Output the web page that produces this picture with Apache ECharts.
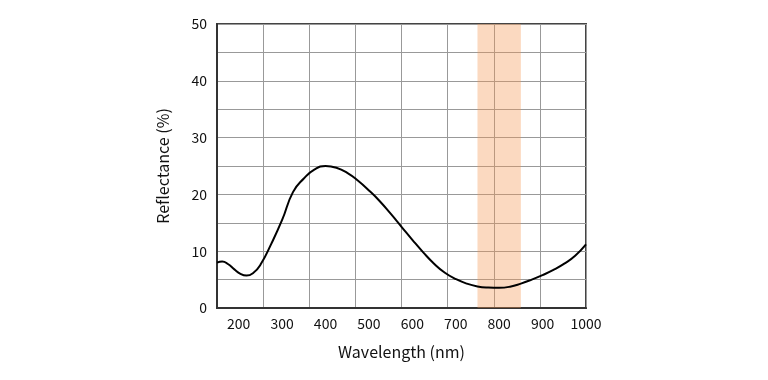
<!DOCTYPE html>
<html>
<head>
<meta charset="utf-8">
<script src="https://cdn.jsdelivr.net/npm/echarts@6/dist/echarts.min.js"></script>
<style>html,body{margin:0;padding:0;background:#fff}#c{width:768px;height:380px}</style>
</head>
<body>
<div id="c"></div>
<script>
var wavelengths = [150, 162, 176, 190, 204, 218, 234, 250, 275, 300, 325, 350, 375, 400, 425, 450, 475, 500, 525, 550, 575, 600, 625, 650, 675, 700, 725, 750, 775, 800, 825, 850, 875, 900, 925, 950, 975, 1000];
var reflectance = [8.0, 8.2, 7.7, 6.8, 6.0, 5.7, 6.2, 7.6, 11.3, 15.5, 20.4, 22.8, 24.4, 25.0, 24.7, 23.8, 22.4, 20.7, 18.8, 16.6, 14.3, 12.0, 9.8, 7.8, 6.2, 5.1, 4.3, 3.8, 3.6, 3.55, 3.75, 4.3, 5.0, 5.8, 6.7, 7.8, 9.2, 11.2];
var bandRange = [750, 850];
var xTicks = [200, 300, 400, 500, 600, 700, 800, 900, 1000];
var yTicks = [0, 10, 20, 30, 40, 50];

var font = '"Noto Sans CJK JP", "Noto Sans", sans-serif';
var chart = echarts.init(document.getElementById('c'), null, {renderer: 'canvas'});
chart.setOption({
  animation: false,
  grid: {left: 217, right: 182, top: 24, bottom: 72, show: true, borderColor: '#444', borderWidth: 2, backgroundColor: 'transparent'},
  xAxis: [{
    type: 'value', min: 150, max: 1000,
    name: 'Wavelength (nm)', nameLocation: 'middle', nameGap: 36,
    nameTextStyle: {fontFamily: font, fontSize: 16, color: '#111'},
    axisLine: {show: true, lineStyle: {color: '#333', width: 2}},
    axisTick: {show: false},
    splitLine: {show: false},
    axisLabel: {fontFamily: font, fontSize: 14, color: '#111', margin: 9,
      customValues: xTicks, formatter: function (v) { return String(v); }}
  }, {
    type: 'value', min: 0, max: 8, interval: 1, position: 'top',
    axisLine: {show: false}, axisTick: {show: false}, axisLabel: {show: false},
    splitLine: {show: true, lineStyle: {color: '#999', width: 1}}
  }],
  yAxis: {
    type: 'value', min: 0, max: 50, interval: 5,
    name: 'Reflectance (%)', nameLocation: 'middle', nameGap: 46,
    nameTextStyle: {fontFamily: font, fontSize: 16, color: '#111'},
    axisLine: {show: true, lineStyle: {color: '#333', width: 2}},
    axisTick: {show: false},
    splitLine: {show: true, lineStyle: {color: '#999', width: 1}},
    axisLabel: {fontFamily: font, fontSize: 14, color: '#111', margin: 10,
      formatter: function (v) { return yTicks.indexOf(v) >= 0 ? String(v) : ''; }}
  },
  series: [{
    type: 'line', xAxisIndex: 0,
    data: wavelengths.map(function (w, i) { return [w, reflectance[i]]; }),
    smooth: 0.5, showSymbol: false,
    lineStyle: {color: '#000', width: 2},
    markArea: {silent: true, itemStyle: {color: 'rgba(245,150,80,0.36)'},
      data: [[{xAxis: bandRange[0]}, {xAxis: bandRange[1]}]]}
  }]
});
</script>
</body>
</html>
